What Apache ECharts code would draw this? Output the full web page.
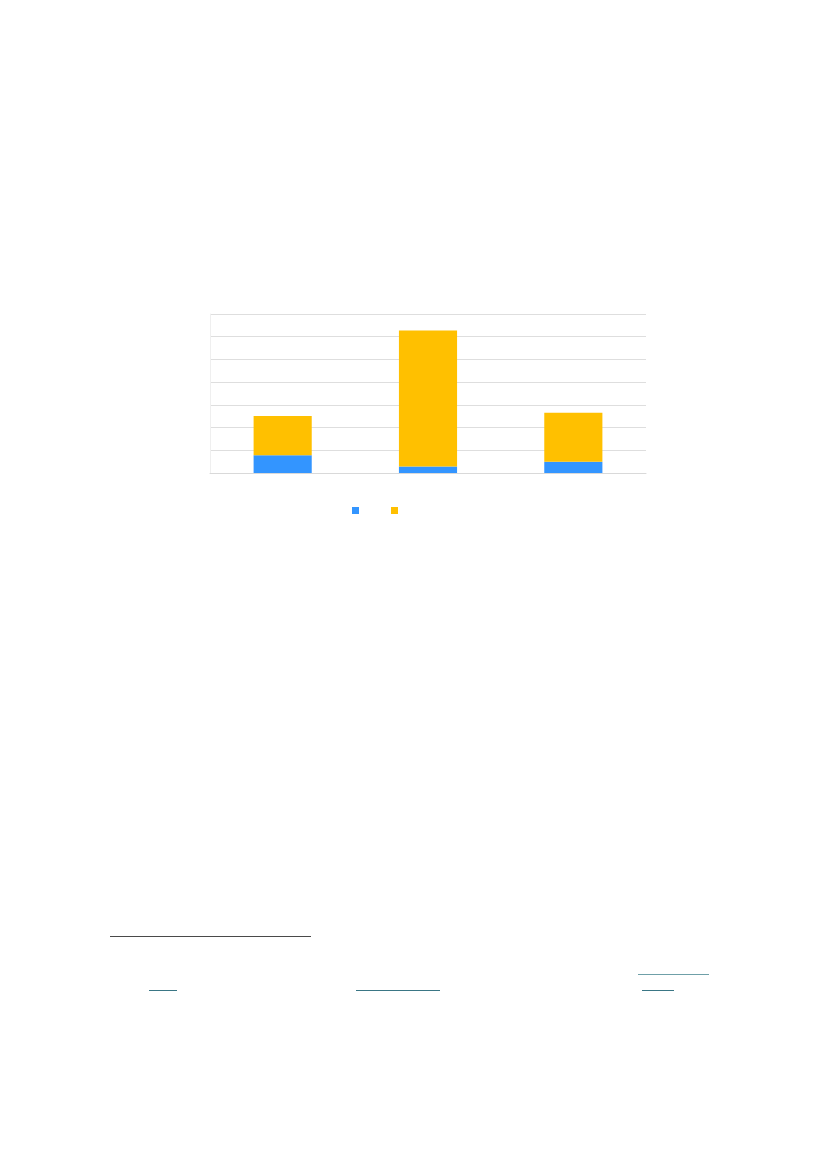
<!DOCTYPE html>
<html>
<head>
<meta charset="utf-8">
<script src="https://cdn.jsdelivr.net/npm/echarts@6/dist/echarts.min.js"></script>
<style>
  html, body { margin: 0; padding: 0; background: #ffffff; }
  #main { width: 827px; height: 1169px; }
</style>
</head>
<body>
<div id="main"></div>
<script>
// values (no labels visible, scale 0-70)
var categories = ['1', '2', '3'];
var seriesNames = ['A', 'B'];
var blueValues = [7.8, 2.9, 5.0];
var yellowValues = [17.3, 59.8, 21.5];

var chart = echarts.init(document.getElementById('main'), null, { renderer: 'canvas' });

var option = {
  backgroundColor: '#ffffff',
  animation: false,
  color: ['#3395FF', '#FFC000'],
  grid: { left: 210, top: 314, width: 436, height: 159 },
  legend: {
    left: 347,
    top: 502,
    icon: 'rect',
    itemWidth: 7,
    itemHeight: 7,
    itemGap: 32,
    formatter: function () { return ''; },
    data: seriesNames
  },
  xAxis: {
    type: 'category',
    data: categories,
    axisLine: { show: true, lineStyle: { color: '#D9D9D9' } },
    axisTick: { show: false },
    axisLabel: { show: false }
  },
  yAxis: {
    type: 'value',
    min: 0,
    max: 70,
    interval: 10,
    axisLine: { show: true, lineStyle: { color: '#EFEFEF' } },
    axisTick: { show: false },
    axisLabel: { show: false },
    splitLine: { lineStyle: { color: '#DEDEDE' } }
  },
  series: [
    { name: seriesNames[0], type: 'bar', stack: 's', barWidth: '40%', data: blueValues },
    { name: seriesNames[1], type: 'bar', stack: 's', barWidth: '40%', data: yellowValues }
  ],
  graphic: [
    // footnote separator and link underlines on the page
    { type: 'line', shape: { x1: 110, y1: 936.5, x2: 311, y2: 936.5 }, style: { stroke: '#4A4A4A', lineWidth: 1.2 } },
    { type: 'line', shape: { x1: 638, y1: 974.5, x2: 709, y2: 974.5 }, style: { stroke: '#6FA0A8', lineWidth: 1 } },
    { type: 'line', shape: { x1: 149, y1: 990.5, x2: 177, y2: 990.5 }, style: { stroke: '#3A7685', lineWidth: 1 } },
    { type: 'line', shape: { x1: 356, y1: 990.5, x2: 440, y2: 990.5 }, style: { stroke: '#3A7685', lineWidth: 1 } },
    { type: 'line', shape: { x1: 642, y1: 990.5, x2: 674, y2: 990.5 }, style: { stroke: '#3A7685', lineWidth: 1 } }
  ]
};

chart.setOption(option);
</script>
</body>
</html>
